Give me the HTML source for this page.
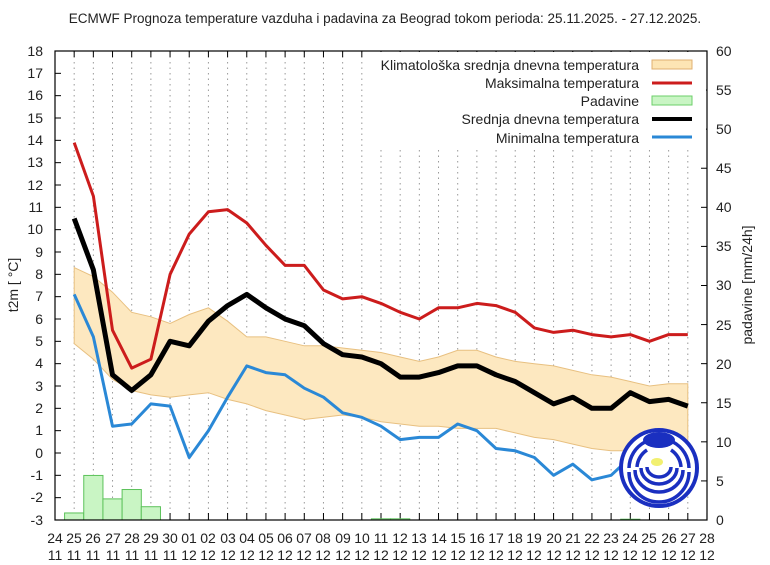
<!DOCTYPE html>
<html><head><meta charset="utf-8"><style>
body{margin:0;background:#fff;}
svg{display:block;font-family:"Liberation Sans",sans-serif;}
</style></head><body>
<svg id="s" width="770" height="565" viewBox="0 0 770 565">
<rect width="770" height="565" fill="#fff"/>
<text x="385" y="23" font-size="13.5" text-anchor="middle" fill="#222">ECMWF Prognoza temperature vazduha i padavina za Beograd tokom perioda: 25.11.2025. - 27.12.2025.</text>
<g id="grid"></g>
<g id="band"></g>
<g id="bars"></g>
<g id="lines"></g>
<rect x="366" y="52" width="340" height="94" fill="#fff"/>
<g font-size="14" fill="#222" text-anchor="end">
<text x="639" y="70">Klimatološka srednja dnevna temperatura</text>
<text x="639" y="88">Maksimalna temperatura</text>
<text x="639" y="106">Padavine</text>
<text x="639" y="124">Srednja dnevna temperatura</text>
<text x="639" y="143">Minimalna temperatura</text>
</g>
<rect x="652" y="60" width="40" height="9" fill="#fde5b4" stroke="#e0b070"/>
<line x1="652" y1="83" x2="692" y2="83" stroke="#cc1c1c" stroke-width="3"/>
<rect x="652" y="96" width="40" height="9" fill="#c9f5c4" stroke="#6ccf6a"/>
<line x1="652" y1="119" x2="692" y2="119" stroke="#000" stroke-width="4"/>
<line x1="652" y1="137" x2="692" y2="137" stroke="#2a88d6" stroke-width="3"/>
<rect x="55" y="51" width="652" height="469" fill="none" stroke="#000" stroke-width="1.2"/>
<g font-size="14" fill="#222" text-anchor="end">
<text x="43" y="56">18</text><text x="43" y="78">17</text><text x="43" y="100">16</text><text x="43" y="123">15</text><text x="43" y="145">14</text><text x="43" y="167">13</text><text x="43" y="190">12</text><text x="43" y="212">11</text><text x="43" y="234">10</text><text x="43" y="257">9</text><text x="43" y="279">8</text><text x="43" y="301">7</text><text x="43" y="324">6</text><text x="43" y="346">5</text><text x="43" y="368">4</text><text x="43" y="391">3</text><text x="43" y="413">2</text><text x="43" y="435">1</text><text x="43" y="458">0</text><text x="43" y="480">-1</text><text x="43" y="502">-2</text><text x="43" y="525">-3</text>
</g>
<g font-size="14" fill="#222">
<text x="716" y="56">60</text><text x="716" y="95">55</text><text x="716" y="134">50</text><text x="716" y="173">45</text><text x="716" y="212">40</text><text x="716" y="251">35</text><text x="716" y="290">30</text><text x="716" y="330">25</text><text x="716" y="369">20</text><text x="716" y="408">15</text><text x="716" y="447">10</text><text x="716" y="486">5</text><text x="716" y="525">0</text>
</g>
<text transform="translate(18,285) rotate(-90)" font-size="14" text-anchor="middle" fill="#222">t2m [ °C]</text>
<text transform="translate(752,285) rotate(-90)" font-size="14" text-anchor="middle" fill="#222">padavine [mm/24h]</text>
<g font-size="14" fill="#222" text-anchor="middle">
<text x="55" y="543">24</text><text x="74" y="543">25</text><text x="93" y="543">26</text><text x="113" y="543">27</text><text x="132" y="543">28</text><text x="151" y="543">29</text><text x="170" y="543">30</text><text x="189" y="543">01</text><text x="208" y="543">02</text><text x="228" y="543">03</text><text x="247" y="543">04</text><text x="266" y="543">05</text><text x="285" y="543">06</text><text x="304" y="543">07</text><text x="323" y="543">08</text><text x="343" y="543">09</text><text x="362" y="543">10</text><text x="381" y="543">11</text><text x="400" y="543">12</text><text x="419" y="543">13</text><text x="439" y="543">14</text><text x="458" y="543">15</text><text x="477" y="543">16</text><text x="496" y="543">17</text><text x="515" y="543">18</text><text x="534" y="543">19</text><text x="554" y="543">20</text><text x="573" y="543">21</text><text x="592" y="543">22</text><text x="611" y="543">23</text><text x="630" y="543">24</text><text x="649" y="543">25</text><text x="669" y="543">26</text><text x="688" y="543">27</text><text x="707" y="543">28</text>
<text x="55" y="560">11</text><text x="74" y="560">11</text><text x="93" y="560">11</text><text x="113" y="560">11</text><text x="132" y="560">11</text><text x="151" y="560">11</text><text x="170" y="560">11</text><text x="189" y="560">12</text><text x="208" y="560">12</text><text x="228" y="560">12</text><text x="247" y="560">12</text><text x="266" y="560">12</text><text x="285" y="560">12</text><text x="304" y="560">12</text><text x="323" y="560">12</text><text x="343" y="560">12</text><text x="362" y="560">12</text><text x="381" y="560">12</text><text x="400" y="560">12</text><text x="419" y="560">12</text><text x="439" y="560">12</text><text x="458" y="560">12</text><text x="477" y="560">12</text><text x="496" y="560">12</text><text x="515" y="560">12</text><text x="534" y="560">12</text><text x="554" y="560">12</text><text x="573" y="560">12</text><text x="592" y="560">12</text><text x="611" y="560">12</text><text x="630" y="560">12</text><text x="649" y="560">12</text><text x="669" y="560">12</text><text x="688" y="560">12</text><text x="707" y="560">12</text>
</g>
<g id="logo" transform="translate(659,468)">
<circle r="38" fill="#fff" stroke="#1a2fc0" stroke-width="4"/>
<path d="M-30,4 A30,30 0 0 0 30,4 M-24,2 A24,22 0 0 0 24,2 M-18,0 A18,16 0 0 0 18,0 M-12,-1 A12,10 0 0 0 12,-1" fill="none" stroke="#1a2fc0" stroke-width="3.5"/>
<path d="M-30,0 A30,30 0 0 1 -14,-26 M30,0 A30,30 0 0 0 14,-26 M-22,-1 A22,22 0 0 1 -12,-18 M22,-1 A22,22 0 0 0 12,-18" fill="none" stroke="#1a2fc0" stroke-width="3.5"/>
<ellipse cx="0" cy="-28" rx="16" ry="8" fill="#1a2fc0"/>
<ellipse cx="-2" cy="-6" rx="6" ry="4" fill="#f2f070"/>
</g>
<script>
var X=function(i){return 55+i*19.176};
var Y=function(t){return 51+(18-t)*22.333};
var NS="http://www.w3.org/2000/svg";
function el(g,tag,a){var e=document.createElementNS(NS,tag);for(var k in a)e.setAttribute(k,a[k]);document.getElementById(g).appendChild(e);return e;}
for(var i=1;i<34;i++){el("grid","line",{x1:X(i),y1:51,x2:X(i),y2:520,stroke:"#999","stroke-width":1,"stroke-dasharray":"1.5,4"});}
for(var i=0;i<=34;i++){el("grid","line",{x1:X(i),y1:520,x2:X(i),y2:513,stroke:"#000"});el("grid","line",{x1:X(i),y1:51,x2:X(i),y2:57,stroke:"#000"});}
for(var t=-3;t<=18;t++){el("grid","line",{x1:55,y1:Y(t),x2:61,y2:Y(t),stroke:"#000"});}
for(var m=0;m<=60;m+=5){var yy=520-m*7.817;el("grid","line",{x1:701,y1:yy,x2:707,y2:yy,stroke:"#000"});}
var mx=[13.9,11.5,5.5,3.8,4.2,8,9.8,10.8,10.9,10.3,9.3,8.4,8.4,7.3,6.9,7.0,6.7,6.3,6.0,6.5,6.5,6.7,6.6,6.3,5.6,5.4,5.5,5.3,5.2,5.3,5.0,5.3,5.3];
var me=[10.5,8.2,3.5,2.8,3.5,5.0,4.8,5.9,6.6,7.1,6.5,6.0,5.7,4.9,4.4,4.3,4.0,3.4,3.4,3.6,3.9,3.9,3.5,3.2,2.7,2.2,2.5,2.0,2.0,2.7,2.3,2.4,2.1];
var mn=[7.1,5.2,1.2,1.3,2.2,2.1,-0.2,1.0,2.5,3.9,3.6,3.5,2.9,2.5,1.8,1.6,1.2,0.6,0.7,0.7,1.3,1.0,0.2,0.1,-0.2,-1.0,-0.5,-1.2,-1.0,-0.2,0.2,0.3,0.5];
var up=[8.3,7.9,7.2,6.3,6.1,5.8,6.2,6.5,5.9,5.2,5.2,5.0,4.8,4.8,4.7,4.6,4.5,4.3,4.1,4.3,4.6,4.6,4.3,4.1,4.0,3.9,3.7,3.5,3.4,3.2,3.0,3.1,3.1];
var lo=[4.9,4.2,3.3,2.8,2.6,2.5,2.6,2.7,2.4,2.2,1.9,1.7,1.5,1.6,1.7,1.6,1.4,1.3,1.2,1.2,1.1,1.1,1.1,0.9,0.7,0.6,0.4,0.2,0.1,0.1,0.0,0.0,0.0];
function pts(a){return a.map(function(v,k){return X(k+1).toFixed(1)+","+Y(v).toFixed(1)}).join(" ");}
var bp=up.map(function(v,k){return X(k+1).toFixed(1)+","+Y(v).toFixed(1)});
for(var k=lo.length-1;k>=0;k--)bp.push(X(k+1).toFixed(1)+","+Y(lo[k]).toFixed(1));
el("band","polygon",{points:bp.join(" "),fill:"#fde8c0",stroke:"#e8c080","stroke-width":1});
var pr=[[1,0.9],[2,5.7],[3,2.7],[4,3.9],[5,1.7],[17,0.15],[18,0.15],[30,0.1]];
pr.forEach(function(p){var h=p[1]*7.817;el("bars","rect",{x:X(p[0])-9.6,y:520-h,width:19.2,height:h,fill:"#c9f5c4",stroke:"#5cc25a","stroke-width":1});});
el("lines","polyline",{points:pts(mn),fill:"none",stroke:"#2a88d6","stroke-width":3,"stroke-linejoin":"round"});
el("lines","polyline",{points:pts(mx),fill:"none",stroke:"#cc1c1c","stroke-width":3,"stroke-linejoin":"round"});
el("lines","polyline",{points:pts(me),fill:"none",stroke:"#000","stroke-width":5,"stroke-linejoin":"round"});
</script>
</svg>
</body></html>
